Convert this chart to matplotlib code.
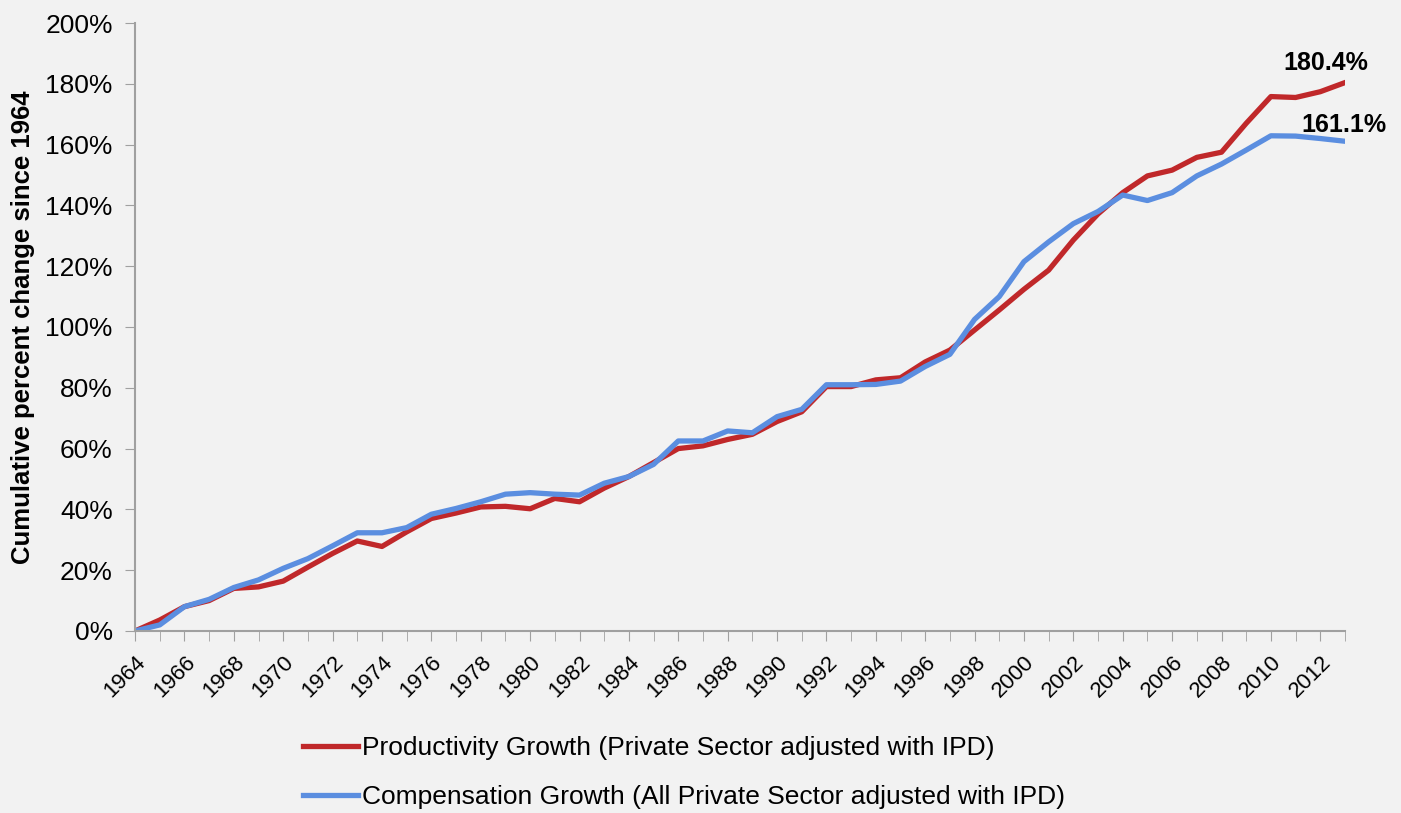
import matplotlib
matplotlib.use("Agg")
import matplotlib.pyplot as plt
import numpy as np

years = list(range(1964, 2014))

productivity = [0, 3.6, 8, 10, 14, 14.5, 16.4, 21, 25.5, 29.6,
                27.8, 32.6, 37, 38.8, 40.8, 41, 40.2, 43.6, 42.5, 47,
                50.8, 55.4, 60, 60.9, 63, 64.7, 68.9, 72.1, 80.4, 80.4,
                82.6, 83.3, 88.5, 92.4, 99, 105.6, 112.4, 118.7, 128.6, 137.2,
                144.2, 149.7, 151.6, 155.8, 157.5, 167, 175.8, 175.5, 177.4, 180.4]

compensation = [0, 2, 8, 10.4, 14.3, 16.8, 20.6, 23.8, 28, 32.3,
                32.3, 34, 38.4, 40.3, 42.5, 45, 45.5, 45, 44.7, 48.6,
                50.8, 54.8, 62.5, 62.5, 65.8, 65.2, 70.5, 72.9, 81, 81,
                81.1, 82.2, 87, 91, 102.5, 110, 121.5, 128, 134, 138,
                143.4, 141.6, 144.2, 149.7, 153.6, 158.2, 162.9, 162.8, 162, 161.1]

labels = ["Productivity Growth (Private Sector adjusted with IPD)",
          "Compensation Growth (All Private Sector adjusted with IPD)"]

plt.rcParams['font.family'] = ['Liberation Sans', 'DejaVu Sans']

bg = '#f2f2f2'
red = '#c0282a'
blue = '#5b8ee0'
axcol = '#a0a0a0'

fig = plt.figure(figsize=(14.01, 8.13), dpi=100, facecolor=bg)
ax = fig.add_axes([0.0964, 0.2239, 0.8636, 0.7478], facecolor=bg)

ax.plot(years, productivity, color=red, lw=3.8, label=labels[0], solid_joinstyle='round')
ax.plot(years, compensation, color=blue, lw=3.8, label=labels[1], solid_joinstyle='round')

ax.set_xlim(1964, 2013)
ax.set_ylim(0, 200)
ax.set_yticks(range(0, 201, 20))
ax.set_yticklabels([f"{v}%" for v in range(0, 201, 20)], fontsize=19)
ax.set_xticks(years, minor=True)
ax.set_xticks(years[::2])
ax.set_xticklabels([str(y) for y in years[::2]], rotation=45, ha='right',
                   rotation_mode='anchor', fontsize=16)
ax.tick_params(axis='x', which='both', length=7, color=axcol, pad=8)
ax.tick_params(axis='y', length=7, color=axcol, pad=9)

for s in ['top', 'right']:
    ax.spines[s].set_visible(False)
for s in ['left', 'bottom']:
    ax.spines[s].set_color(axcol)
    ax.spines[s].set_linewidth(1.5)

ax.set_ylabel("Cumulative percent change since 1964", fontsize=18.5,
              fontweight='bold')
ax.yaxis.set_label_coords(-0.083, 0.5)

ax.annotate(f"{productivity[-1]}%", (years[-1], productivity[-1]),
            xytext=(-14, 9), textcoords='offset points', ha='center',
            fontsize=18, fontweight='bold')
ax.annotate(f"{compensation[-1]}%", (years[-1], compensation[-1]),
            xytext=(-1, 7), textcoords='offset points', ha='center',
            fontsize=18, fontweight='bold')

ax.legend(loc='upper left', bbox_to_anchor=(303 / 1401, 1 - 736 / 813),
          bbox_transform=fig.transFigure, frameon=False, fontsize=19,
          handlelength=2.1, handletextpad=0.15, labelspacing=0.95,
          borderpad=0, borderaxespad=0)

fig.savefig("out.png", dpi=100, facecolor=bg)
